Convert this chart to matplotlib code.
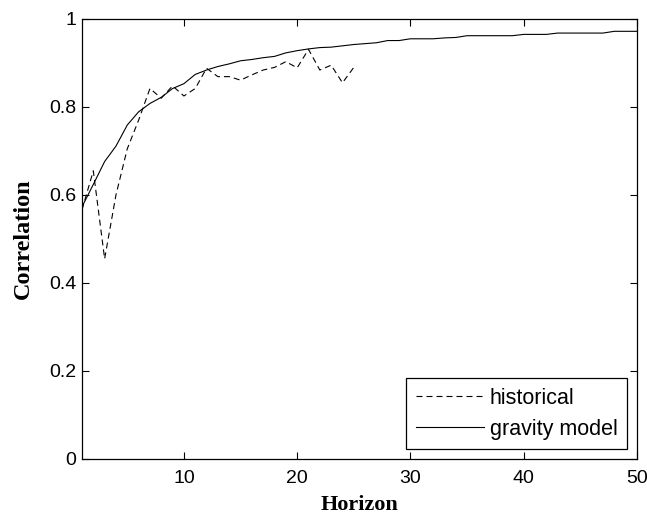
import numpy as np
import matplotlib
matplotlib.use("Agg")
import matplotlib.pyplot as plt

# -----------------------------
# Data
# -----------------------------
horizon_hist = list(range(1, 26))
historical = [0.566, 0.655, 0.455, 0.600, 0.705, 0.770, 0.842, 0.820, 0.848,
              0.825, 0.842, 0.888, 0.869, 0.869, 0.861, 0.873, 0.884, 0.890,
              0.903, 0.889, 0.931, 0.884, 0.895, 0.855, 0.890]

horizon_grav = list(range(1, 51))
gravity = [0.573, 0.624, 0.676, 0.711, 0.759, 0.789, 0.808, 0.822, 0.842,
           0.853, 0.874, 0.884, 0.892, 0.898, 0.905, 0.908, 0.912, 0.915,
           0.923, 0.928, 0.932, 0.935, 0.936, 0.939, 0.942, 0.944, 0.946,
           0.951, 0.951, 0.955, 0.955, 0.955, 0.957, 0.958, 0.962, 0.962,
           0.962, 0.962, 0.962, 0.965, 0.965, 0.965, 0.968, 0.968, 0.968,
           0.968, 0.968, 0.972, 0.972, 0.972]

x_ticks = [10, 20, 30, 40, 50]
y_ticks = [0, 0.2, 0.4, 0.6, 0.8, 1]
y_labels = ["0", "0.2", "0.4", "0.6", "0.8", "1"]

# -----------------------------
# Plot
# -----------------------------
sans = ["Liberation Sans", "DejaVu Sans"]
serif = ["Liberation Serif", "DejaVu Serif"]

fig = plt.figure(figsize=(6.47, 5.16), dpi=100)
ax = fig.add_axes([0.1267, 0.1105, 0.8578, 0.8527])

ax.plot(horizon_hist, historical, color="black", lw=0.8,
        linestyle=(0, (5.4, 3.6)), label="historical")
ax.plot(horizon_grav, gravity, color="black", lw=0.8, label="gravity model")

ax.set_xlim(1, 50)
ax.set_ylim(0, 1)
ax.set_xticks(x_ticks)
ax.set_yticks(y_ticks)
ax.set_yticklabels(y_labels)

ax.tick_params(direction="in", top=True, right=True, length=5, width=0.8,
               labelsize=14)
ax.tick_params(axis="x", pad=8)
ax.tick_params(axis="y", pad=4)
for lab in ax.get_xticklabels() + ax.get_yticklabels():
    lab.set_family(sans)
for sp in ax.spines.values():
    sp.set_linewidth(0.9)

ax.set_xlabel("Horizon", family=serif, fontweight="bold", fontsize=16,
              labelpad=5.5)
ax.set_ylabel("Correlation", family=serif, fontweight="bold", fontsize=17.5,
              labelpad=11)

leg = ax.legend(loc="lower right", prop={"family": sans, "size": 15.5},
                fancybox=False, edgecolor="black", framealpha=1,
                handlelength=3.15, handletextpad=0.28, borderaxespad=0.45,
                labelspacing=0.45, borderpad=0.45)
leg.get_frame().set_linewidth(0.9)

fig.savefig("out.png", dpi=100)
